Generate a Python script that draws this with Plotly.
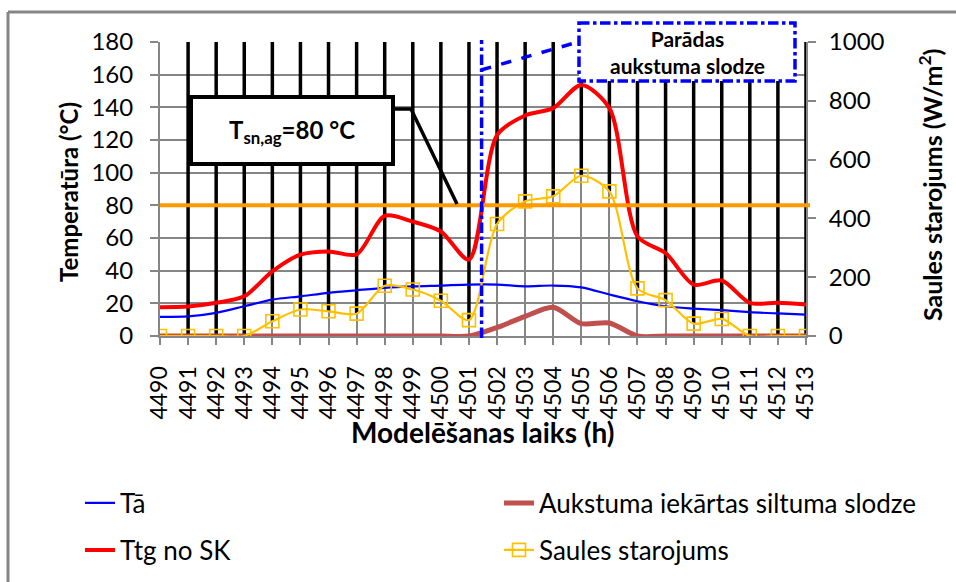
import plotly.graph_objects as go

# ---------------- data ----------------
hours = list(range(4490, 4514))
ta = [11.7, 12.0, 14.2, 18.2, 22.3, 24.3, 26.4, 28.0, 29.5, 30.4, 30.9, 31.5,
      31.5, 30.4, 30.9, 29.8, 25.4, 21.3, 18.2, 16.8, 15.8, 14.6, 13.8, 13.1]
ttg = [17.6, 18.0, 20.3, 24.3, 39.6, 49.8, 51.8, 50.0, 73.6, 70.0, 64.0, 46.8,
       123.0, 135.0, 139.5, 153.7, 139.5, 61.0, 50.8, 31.5, 34.0, 20.3, 20.3, 19.3]
cold_load = [0, 0, 0, 0, 0, 0, 0, 0, 0, 0, 0, 0,
             5.2, 12.0, 17.6, 7.6, 8.0, 0, 0, 0, 0, 0, 0, 0]
solar = [0, 0, 0, 0, 50, 90, 84, 76, 171, 158, 120, 54,
         381, 458, 475, 545, 492, 162, 122, 42, 58, 0, 0, 0]
hl_hours = hours[1:]          # high-low lines (hidden series at 1000 W/m2)
hl_top = 1000
t_threshold = 80
cold_start_hour = 4501.45

y_left_ticks = list(range(0, 181, 20))
y_right_ticks = list(range(0, 1001, 200))

FONT = "Lato"
W, H = 956, 582
L, R, T, B = 160, 150, 42, 246
PW, PH = W - L - R, H - T - B


def px(x):
    return (x - L) / PW


def py(y):
    return (H - B - y) / PH


fig = go.Figure()

# high-low lines drawn on the left scale (converted from W/m2)
scale = 180 / 1000
hx, hy = [], []
for h, s in zip(hours, solar):
    if h in hl_hours:
        hx += [h, h, None]
        hy += [hl_top * scale, s * scale, None]
fig.add_trace(go.Scatter(x=hx, y=hy, mode="lines", line=dict(color="black", width=3.5),
                         showlegend=False, hoverinfo="skip"))

fig.add_trace(go.Scatter(x=hours, y=ta, name="Tā", mode="lines",
                         line=dict(color="#0000FF", width=2.2, shape="spline", smoothing=0.8),
                         legend="legend"))
fig.add_trace(go.Scatter(x=hours, y=cold_load, name="Aukstuma iekārtas siltuma slodze", mode="lines",
                         line=dict(color="#C0504D", width=5, shape="spline", smoothing=0.8),
                         legend="legend2"))
fig.add_trace(go.Scatter(x=hours, y=ttg, name="Ttg no SK", mode="lines",
                         line=dict(color="#FF0000", width=4, shape="spline", smoothing=0.8),
                         legend="legend3"))
fig.add_trace(go.Scatter(x=hours, y=solar, name="Saules starojums", mode="lines+markers", yaxis="y2",
                         line=dict(color="#FFC000", width=2.2, shape="spline", smoothing=0.8),
                         marker=dict(symbol="square-open", size=13, color="#FFC000", line=dict(width=1.6)),
                         legend="legend4"))

shapes = []
# threshold line
shapes.append(dict(type="line", xref="paper", yref="y", x0=0, x1=px(810), y0=t_threshold, y1=t_threshold,
                   line=dict(color="#FF9900", width=4), layer="above"))
# T box
shapes.append(dict(type="rect", xref="paper", yref="paper", x0=px(191), x1=px(393), y0=py(97), y1=py(164),
                   line=dict(color="black", width=4), fillcolor="white", layer="above"))
shapes.append(dict(type="path", xref="paper", yref="paper",
                   path=f"M {px(393)} {py(109)} L {px(411)} {py(109)} L {px(457)} {py(204)}",
                   line=dict(color="black", width=3.5), layer="above"))
# cold-load marker line & box
shapes.append(dict(type="line", xref="x", yref="paper", x0=cold_start_hour, x1=cold_start_hour,
                   y0=py(338), y1=py(40), line=dict(color="#0000FF", width=3.5, dash="dashdot"), layer="above"))
shapes.append(dict(type="line", xref="paper", yref="paper", x0=px(481), y0=py(70), x1=px(578), y1=py(42),
                   line=dict(color="#0000FF", width=3.5, dash="dash"), layer="above"))
shapes.append(dict(type="rect", xref="paper", yref="paper", x0=px(579), x1=px(795), y0=py(23), y1=py(81),
                   line=dict(color="#0000FF", width=3.5, dash="dashdot"), fillcolor="white", layer="above"))
# outer chart frame (cropped)
shapes.append(dict(type="line", xref="paper", yref="paper", x0=px(8), x1=px(8), y0=py(12), y1=py(590),
                   line=dict(color="#868686", width=3)))
shapes.append(dict(type="line", xref="paper", yref="paper", x0=px(8), x1=px(960), y0=py(12), y1=py(12),
                   line=dict(color="#868686", width=3)))


def ann(xp, yp, text, size, angle=0):
    return dict(xref="paper", yref="paper", x=px(xp), y=py(yp), text=text, textangle=angle,
                xanchor="center", yanchor="middle", showarrow=False,
                font=dict(family=FONT, size=size, color="black"))


annotations = [
    ann(292, 131, "<b>T<sub>sn,ag</sub>=80 °C</b>", 24),
    ann(687, 52, "<b>Parādas<br>aukstuma slodze</b>", 21),
    ann(68, 192, "<b>Temperatūra (°C)</b>", 24, -90),
    ann(930, 185, "<b>Saules starojums (W/m<sup>2</sup>)</b>", 25, -90),
    ann(483, 432, "<b>Modelēšanas laiks (h)</b>", 28),
]

grid = "#868686"
leg_font = dict(size=26, family=FONT, color="black")


def leg(xpix, ypix):
    return dict(orientation="h", x=px(xpix), y=py(ypix), xanchor="left", yanchor="middle",
                font=leg_font, bgcolor="rgba(0,0,0,0)", itemwidth=30)


fig.update_layout(
    width=W, height=H, margin=dict(l=L, r=R, t=T, b=B, autoexpand=False),
    paper_bgcolor="white", plot_bgcolor="white",
    font=dict(family=FONT, color="black"),
    shapes=shapes, annotations=annotations,
    xaxis=dict(range=[4490, 4513], tickmode="array", tickvals=hours, ticktext=[str(h) for h in hours],
               tickangle=-90, tickfont=dict(size=23, family=FONT), showgrid=True, gridcolor=grid, gridwidth=1.5,
               showline=True, linecolor=grid, linewidth=2, ticks="outside", ticklen=7, tickcolor=grid,
               tickwidth=1.5, zeroline=False, automargin=False, ticklabelstandoff=12),
    yaxis=dict(range=[0, 180], tickvals=y_left_ticks, tickfont=dict(size=24, family=FONT), showgrid=True,
               gridcolor=grid, gridwidth=2, showline=True, linecolor=grid, linewidth=2, ticks="outside",
               ticklen=8, tickcolor=grid, tickwidth=2, zeroline=False, ticklabelstandoff=12, automargin=False),
    yaxis2=dict(range=[0, 1000], tickvals=y_right_ticks, overlaying="y", side="right",
                tickfont=dict(size=24, family=FONT), showgrid=False, showline=True, linecolor=grid, linewidth=2,
                ticks="outside", ticklen=8, tickcolor=grid, tickwidth=2, zeroline=False, ticklabelstandoff=8,
                automargin=False),
    legend=leg(80, 503),
    legend2=leg(499, 503),
    legend3=leg(80, 550),
    legend4=leg(499, 550),
    showlegend=True,
)

fig.write_html("out.html", config={"displayModeBar": False},
               post_script="document.body.style.margin='0px';document.documentElement.style.overflow='hidden';")
